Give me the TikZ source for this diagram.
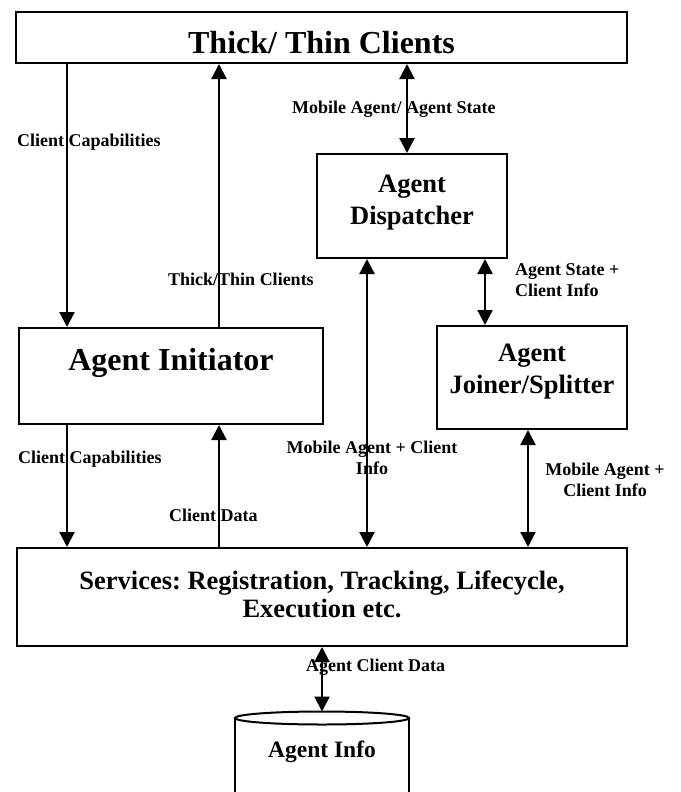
\documentclass[tikz,border=0pt]{standalone}
\usepackage{fontspec}
\setmainfont{Liberation Serif}
\usetikzlibrary{arrows.meta}
\frenchspacing

\begin{document}
\begin{tikzpicture}[x=1pt, y=-1pt,
        box/.style={draw, line width=2pt, inner sep=0pt, anchor=north west, align=center, font=\bfseries\fontsize{26.5}{32}\selectfont},
        big/.style={font=\bfseries\fontsize{32}{36}\selectfont},
        lbl/.style={inner sep=0pt, font=\bfseries\fontsize{18}{21.5}\selectfont},
        oneway/.style={line width=2.2pt, -{Triangle[length=15pt,width=15pt]}},
        twoway/.style={line width=2.2pt, {Triangle[length=15pt,width=15pt]}-{Triangle[length=15pt,width=15pt]}}]
            \useasboundingbox (0,0) rectangle (680,792);

            % Boxes (multi-line text sits on its last baseline)
            \node[box, big, minimum width=611pt, text height=42pt, text depth=9pt] (clients) at (15,11) {Thick/ Thin Clients};
            \node[box, minimum width=190pt, text height=70pt, text depth=34pt] (disp) at (316,153) {Agent\\Dispatcher};
            \node[box, big, minimum width=304pt, text height=42pt, text depth=54pt] (init) at (18,327) {Agent Initiator};
            \node[box, minimum width=190pt, text height=67pt, text depth=36pt] (joiner) at (436,325) {Agent\\Joiner/Splitter};
            \node[box, font=\bfseries\fontsize{26.5}{27.5}\selectfont, minimum width=610pt, text height=69pt, text depth=29pt] (services) at (16,547) {Services: Registration, Tracking, Lifecycle,\\Execution etc.};

            % Data store
            \node[inner sep=0pt, anchor=base, font=\bfseries\fontsize{23.5}{28}\selectfont] (info) at (322,757) {Agent Info};
            \coordinate (dbtop) at (322,711.5);
            \draw[line width=2pt] (235,800) -- (235,718) (409,718) -- (409,800);
            \draw[line width=2pt] (322,718) ellipse [x radius=87pt, y radius=6.5pt];

            % Labels
            \node[lbl, anchor=base west] (lcap1) at (17,146) {Client Capabilities};
            \node[lbl, anchor=base west] (lthick) at (168,285.5) {Thick/Thin Clients};
            \node[lbl, anchor=base west] (lmob) at (292,113.5) {Mobile Agent/ Agent State};
            \node[lbl, anchor=base west, align=left] (lstate) at (515,296.5) {Agent State +\\Client Info};
            \node[lbl, anchor=base west] (lcap2) at (18,463.5) {Client Capabilities};
            \node[lbl, anchor=base west] (ldata) at (169,521.5) {Client Data};
            \node[lbl, anchor=base, align=center] (lmobinfo) at (372,474.5) {Mobile Agent + Client\\Info};
            \node[lbl, anchor=base, align=center] (ljoininfo) at (605,496.5) {Mobile Agent +\\Client Info};
            \node[lbl, anchor=base west] (ldbdata) at (306,671.5) {Agent Client Data};

            % Connectors
            \draw[oneway] ([xshift=52pt]clients.south west) -- ([xshift=49pt]init.north west);
            \draw[oneway] ([xshift=201pt]init.north west) -- ([xshift=204pt]clients.south west);
            \draw[twoway] ([xshift=392pt]clients.south west) -- ([xshift=91pt]disp.north west);
            \draw[twoway] ([xshift=51pt]disp.south west) -- ([xshift=351pt]services.north west);
            \draw[twoway] ([xshift=169pt]disp.south west) -- ([xshift=49pt]joiner.north west);
            \draw[oneway] ([xshift=49pt]init.south west) -- ([xshift=51pt]services.north west);
            \draw[oneway] ([xshift=203pt]services.north west) -- ([xshift=201pt]init.south west);
            \draw[twoway] ([xshift=92pt]joiner.south west) -- ([xshift=512pt]services.north west);
            \draw[twoway] ([xshift=306pt]services.south west) -- (dbtop);
\end{tikzpicture}
\end{document}
